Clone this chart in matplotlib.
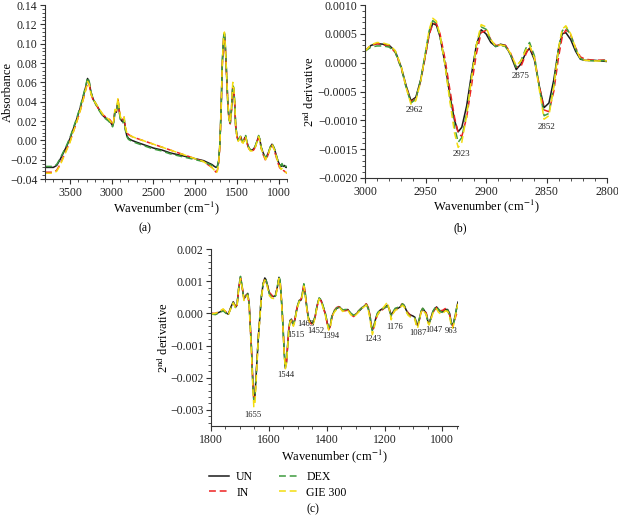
import matplotlib
matplotlib.use("Agg")
import matplotlib.pyplot as plt
from matplotlib.ticker import MultipleLocator, FuncFormatter

plt.rcParams['font.family'] = ['Liberation Serif', 'DejaVu Serif']
plt.rcParams['mathtext.fontset'] = 'stix'

names = ['UN', 'IN', 'DEX', 'GIE 300']
colors = ['#1a1a1a', '#ee2222', '#3f9b3f', '#f2dc10']
styles = ['-', '--', '--', '--']

# ---- panel (a): absorbance spectra
wn_a = [3800, 3750, 3700, 3660, 3620, 3580, 3540, 3500, 3460, 3420,
        3380, 3340, 3310, 3290, 3270, 3250, 3220, 3190, 3160, 3130,
        3100, 3070, 3040, 3010, 2990, 2975, 2962, 2945, 2925, 2910,
        2895, 2880, 2866, 2852, 2838, 2820, 2800, 2760, 2700, 2600,
        2500, 2400, 2300, 2200, 2100, 2000, 1900, 1850, 1800, 1770,
        1750, 1735, 1720, 1705, 1690, 1675, 1660, 1650, 1640, 1625,
        1610, 1595, 1580, 1565, 1550, 1540, 1528, 1515, 1500, 1485,
        1470, 1455, 1440, 1425, 1410, 1395, 1380, 1360, 1340, 1320,
        1300, 1280, 1260, 1240, 1225, 1210, 1190, 1170, 1155, 1140,
        1120, 1100, 1080, 1065, 1050, 1030, 1010, 990, 970, 960,
        945, 930, 915, 900]
un_a = [-0.028, -0.028, -0.028, -0.026, -0.020, -0.013, -0.006, 0.002, 0.012, 0.022,
        0.033, 0.046, 0.056, 0.064, 0.060, 0.050, 0.042, 0.038, 0.033, 0.029,
        0.025, 0.023, 0.021, 0.018, 0.015, 0.020, 0.030, 0.029, 0.041, 0.030,
        0.022, 0.020, 0.019, 0.023, 0.012, 0.005, 0.002, 0.000, -0.002, -0.005,
        -0.008, -0.010, -0.013, -0.015, -0.017, -0.019, -0.021, -0.023, -0.025, -0.027,
        -0.028, -0.027, -0.022, -0.005, 0.030, 0.080, 0.105, 0.110, 0.098, 0.070,
        0.040, 0.022, 0.018, 0.032, 0.055, 0.054, 0.040, 0.015, 0.005, 0.000,
        0.002, 0.004, -0.001, -0.002, 0.002, 0.004, -0.002, -0.007, -0.010, -0.010,
        -0.009, -0.006, -0.001, 0.004, 0.001, -0.007, -0.012, -0.016, -0.019, -0.016,
        -0.012, -0.007, -0.004, -0.006, -0.009, -0.015, -0.021, -0.025, -0.027, -0.025,
        -0.027, -0.026, -0.028, -0.028]
in_a = [-0.033, -0.033, -0.033, -0.031, -0.025, -0.017, -0.009, -0.001, 0.009, 0.019,
        0.030, 0.043, 0.053, 0.060, 0.058, 0.048, 0.041, 0.037, 0.033, 0.029,
        0.026, 0.024, 0.023, 0.020, 0.017, 0.021, 0.031, 0.030, 0.042, 0.031,
        0.023, 0.022, 0.021, 0.024, 0.014, 0.008, 0.006, 0.004, 0.002, -0.001,
        -0.004, -0.007, -0.010, -0.013, -0.016, -0.019, -0.022, -0.025, -0.028, -0.031,
        -0.033, -0.031, -0.025, -0.007, 0.028, 0.078, 0.103, 0.108, 0.097, 0.069,
        0.039, 0.021, 0.017, 0.031, 0.055, 0.054, 0.040, 0.014, 0.004, -0.001,
        0.001, 0.003, -0.002, -0.003, 0.001, 0.003, -0.003, -0.008, -0.011, -0.011,
        -0.010, -0.007, -0.002, 0.003, 0.000, -0.008, -0.014, -0.018, -0.021, -0.018,
        -0.013, -0.008, -0.005, -0.007, -0.011, -0.017, -0.023, -0.028, -0.030, -0.029,
        -0.031, -0.032, -0.033, -0.034]
dex_a = [-0.027, -0.027, -0.027, -0.025, -0.019, -0.012, -0.005, 0.003, 0.013, 0.023,
         0.034, 0.047, 0.057, 0.065, 0.061, 0.050, 0.042, 0.037, 0.032, 0.028,
         0.024, 0.022, 0.020, 0.017, 0.014, 0.019, 0.030, 0.029, 0.041, 0.029,
         0.021, 0.019, 0.018, 0.022, 0.011, 0.004, 0.001, -0.001, -0.003, -0.006,
         -0.009, -0.011, -0.014, -0.016, -0.018, -0.020, -0.022, -0.024, -0.026, -0.027,
         -0.028, -0.027, -0.021, -0.004, 0.032, 0.082, 0.107, 0.113, 0.100, 0.071,
         0.041, 0.022, 0.018, 0.033, 0.057, 0.055, 0.041, 0.015, 0.005, 0.000,
         0.002, 0.005, -0.001, -0.002, 0.002, 0.005, -0.002, -0.007, -0.010, -0.010,
         -0.009, -0.006, -0.001, 0.005, 0.001, -0.007, -0.012, -0.016, -0.018, -0.016,
         -0.012, -0.007, -0.003, -0.006, -0.009, -0.015, -0.021, -0.025, -0.026, -0.024,
         -0.027, -0.025, -0.027, -0.027]
gie_a = [-0.034, -0.034, -0.034, -0.032, -0.026, -0.018, -0.010, -0.002, 0.009, 0.019,
         0.030, 0.043, 0.053, 0.061, 0.058, 0.048, 0.042, 0.038, 0.034, 0.030,
         0.026, 0.024, 0.022, 0.019, 0.016, 0.021, 0.032, 0.031, 0.044, 0.032,
         0.024, 0.022, 0.021, 0.024, 0.014, 0.008, 0.006, 0.004, 0.002, -0.001,
         -0.004, -0.007, -0.010, -0.013, -0.016, -0.019, -0.022, -0.025, -0.028, -0.031,
         -0.034, -0.032, -0.025, -0.006, 0.030, 0.081, 0.107, 0.112, 0.099, 0.071,
         0.041, 0.022, 0.018, 0.034, 0.060, 0.058, 0.042, 0.015, 0.004, -0.001,
         0.001, 0.004, -0.002, -0.003, 0.001, 0.004, -0.003, -0.008, -0.011, -0.011,
         -0.010, -0.007, -0.002, 0.004, 0.000, -0.008, -0.013, -0.017, -0.020, -0.017,
         -0.013, -0.008, -0.004, -0.007, -0.010, -0.016, -0.022, -0.027, -0.030, -0.029,
         -0.031, -0.032, -0.033, -0.034]

# ---- panel (b): 2nd derivative, CH stretching region
wn_b = [3000, 2995, 2990, 2985, 2980, 2975, 2970, 2966, 2962, 2958,
        2954, 2950, 2947, 2944, 2941, 2938, 2934, 2930, 2926, 2923,
        2920, 2916, 2912, 2908, 2904, 2900, 2896, 2892, 2888, 2884,
        2880, 2875, 2871, 2867, 2864, 2860, 2856, 2852, 2848, 2844,
        2840, 2837, 2834, 2830, 2826, 2822, 2818, 2810, 2800]
un_b = [0.00020, 0.00030, 0.00033, 0.00032, 0.00030, 0.00020, -0.00008, -0.00040, -0.00066, -0.00060,
        -0.00030, 0.00015, 0.00050, 0.00068, 0.00065, 0.00045, 0.00000, -0.00055, -0.00100, -0.00120,
        -0.00112, -0.00075, -0.00020, 0.00030, 0.00057, 0.00050, 0.00035, 0.00028, 0.00032, 0.00030,
        0.00015, -0.00012, -0.00002, 0.00018, 0.00025, 0.00005, -0.00040, -0.00078, -0.00070, -0.00030,
        0.00025, 0.00050, 0.00052, 0.00040, 0.00020, 0.00006, 0.00004, 0.00004, 0.00002]
in_b = [0.00020, 0.00030, 0.00033, 0.00031, 0.00028, 0.00018, -0.00010, -0.00042, -0.00068, -0.00062,
        -0.00032, 0.00012, 0.00048, 0.00068, 0.00068, 0.00050, 0.00008, -0.00045, -0.00095, -0.00122,
        -0.00128, -0.00095, -0.00040, 0.00015, 0.00052, 0.00056, 0.00040, 0.00030, 0.00030, 0.00030,
        0.00018, -0.00008, -0.00006, 0.00015, 0.00028, 0.00010, -0.00040, -0.00082, -0.00085, -0.00050,
        0.00010, 0.00045, 0.00057, 0.00048, 0.00026, 0.00010, 0.00006, 0.00004, 0.00005]
dex_b = [0.00020, 0.00027, 0.00029, 0.00029, 0.00027, 0.00018, -0.00010, -0.00043, -0.00070, -0.00063,
         -0.00030, 0.00018, 0.00055, 0.00073, 0.00068, 0.00045, -0.00002, -0.00060, -0.00112, -0.00138,
         -0.00130, -0.00088, -0.00025, 0.00030, 0.00062, 0.00058, 0.00038, 0.00028, 0.00030, 0.00028,
         0.00015, -0.00008, 0.00004, 0.00025, 0.00035, 0.00012, -0.00042, -0.00092, -0.00088, -0.00040,
         0.00025, 0.00055, 0.00062, 0.00048, 0.00024, 0.00007, 0.00004, 0.00003, 0.00004]
gie_b = [0.00020, 0.00031, 0.00035, 0.00034, 0.00031, 0.00021, -0.00007, -0.00043, -0.00072, -0.00066,
         -0.00033, 0.00017, 0.00057, 0.00077, 0.00072, 0.00048, -0.00002, -0.00065, -0.00122, -0.00147,
         -0.00138, -0.00092, -0.00028, 0.00030, 0.00066, 0.00062, 0.00040, 0.00029, 0.00031, 0.00029,
         0.00017, -0.00005, 0.00003, 0.00022, 0.00030, 0.00008, -0.00046, -0.00098, -0.00092, -0.00042,
         0.00026, 0.00058, 0.00064, 0.00050, 0.00025, 0.00007, 0.00004, 0.00003, 0.00003]
peaks_b = [2962, 2923, 2875, 2852]
peaks_b_pos = [(2959, -0.00082), (2920, -0.00158), (2871, -0.00023), (2850, -0.00111)]

# ---- panel (c): 2nd derivative, fingerprint region
wn_c = [1800, 1785, 1770, 1758, 1748, 1740, 1731, 1723, 1715, 1710,
        1704, 1698, 1692, 1686, 1679, 1673, 1668, 1664, 1660, 1656,
        1652, 1648, 1644, 1640, 1636, 1631, 1626, 1620, 1614, 1610,
        1604, 1598, 1591, 1584, 1577, 1570, 1565, 1561, 1557, 1554,
        1550, 1547, 1543, 1539, 1535, 1531, 1527, 1522, 1518, 1515,
        1510, 1505, 1500, 1495, 1488, 1483, 1479, 1474, 1469, 1463,
        1457, 1452, 1446, 1440, 1433, 1426, 1419, 1412, 1405, 1398,
        1393, 1388, 1382, 1375, 1366, 1355, 1345, 1337, 1327, 1317,
        1307, 1296, 1285, 1274, 1263, 1256, 1250, 1246, 1242, 1237,
        1231, 1224, 1215, 1206, 1198, 1190, 1183, 1177, 1170, 1163,
        1155, 1146, 1138, 1132, 1125, 1118, 1110, 1102, 1095, 1090,
        1086, 1080, 1074, 1068, 1062, 1056, 1050, 1046, 1040, 1033,
        1026, 1020, 1014, 1006, 998, 990, 982, 975, 969, 964,
        959, 954, 950, 946]
un_c = [0.00000, -0.00002, 0.00004, 0.00010, 0.00002, -0.00003, 0.00020, 0.00036, 0.00020, 0.00025,
        0.00080, 0.00113, 0.00080, 0.00045, 0.00055, 0.00062, 0.00030, -0.00040, -0.00110, -0.00200,
        -0.00270, -0.00255, -0.00195, -0.00130, -0.00070, -0.00010, 0.00050, 0.00090, 0.00110, 0.00105,
        0.00085, 0.00062, 0.00055, 0.00052, 0.00055, 0.00085, 0.00112, 0.00100, 0.00050, 0.00010,
        -0.00060, -0.00120, -0.00170, -0.00150, -0.00100, -0.00050, -0.00025, -0.00018, -0.00030, -0.00035,
        -0.00020, 0.00005, 0.00025, 0.00038, 0.00042, 0.00065, 0.00088, 0.00060, 0.00020, -0.00015,
        -0.00025, -0.00030, -0.00028, -0.00010, 0.00025, 0.00047, 0.00040, 0.00020, 0.00000, -0.00030,
        -0.00047, -0.00040, -0.00010, 0.00005, 0.00015, 0.00020, 0.00008, 0.00010, 0.00012, 0.00000,
        -0.00008, 0.00000, 0.00010, 0.00020, 0.00028, 0.00015, -0.00010, -0.00035, -0.00052, -0.00040,
        -0.00018, 0.00000, 0.00010, 0.00015, 0.00020, 0.00025, 0.00012, -0.00005, 0.00005, 0.00013,
        0.00015, 0.00020, 0.00028, 0.00025, 0.00010, 0.00000, -0.00005, -0.00008, -0.00012, -0.00030,
        -0.00037, -0.00020, 0.00005, 0.00015, 0.00008, 0.00000, -0.00025, -0.00030, -0.00015, 0.00005,
        0.00015, 0.00020, 0.00012, 0.00005, 0.00005, 0.00012, 0.00012, 0.00000, -0.00030, -0.00037,
        -0.00020, 0.00000, 0.00020, 0.00035]
in_c = [0.00000, 0.00000, 0.00006, 0.00012, 0.00004, -0.00002, 0.00018, 0.00034, 0.00022, 0.00027,
        0.00078, 0.00110, 0.00082, 0.00047, 0.00057, 0.00060, 0.00028, -0.00042, -0.00112, -0.00198,
        -0.00265, -0.00258, -0.00198, -0.00128, -0.00068, -0.00008, 0.00048, 0.00092, 0.00108, 0.00100,
        0.00082, 0.00065, 0.00058, 0.00050, 0.00058, 0.00082, 0.00108, 0.00098, 0.00052, 0.00008,
        -0.00058, -0.00118, -0.00165, -0.00152, -0.00102, -0.00048, -0.00022, -0.00020, -0.00032, -0.00036,
        -0.00018, 0.00008, 0.00028, 0.00040, 0.00045, 0.00068, 0.00090, 0.00062, 0.00018, -0.00018,
        -0.00030, -0.00033, -0.00030, -0.00012, 0.00022, 0.00045, 0.00038, 0.00018, -0.00002, -0.00032,
        -0.00050, -0.00042, -0.00012, 0.00008, 0.00018, 0.00022, 0.00010, 0.00008, 0.00010, -0.00002,
        -0.00010, 0.00002, 0.00012, 0.00022, 0.00030, 0.00018, -0.00008, -0.00038, -0.00055, -0.00045,
        -0.00020, -0.00004, 0.00008, 0.00012, 0.00018, 0.00022, 0.00010, -0.00008, 0.00002, 0.00010,
        0.00018, 0.00025, 0.00030, 0.00022, 0.00008, 0.00002, -0.00008, -0.00012, -0.00015, -0.00035,
        -0.00040, -0.00022, 0.00002, 0.00015, 0.00010, 0.00002, -0.00022, -0.00028, -0.00018, 0.00002,
        0.00012, 0.00018, 0.00010, 0.00008, 0.00010, 0.00015, 0.00008, -0.00005, -0.00032, -0.00040,
        -0.00025, -0.00010, 0.00000, 0.00005]
dex_c = [-0.00002, -0.00004, 0.00002, 0.00008, 0.00000, -0.00004, 0.00018, 0.00034, 0.00018, 0.00024,
         0.00082, 0.00115, 0.00082, 0.00044, 0.00054, 0.00060, 0.00028, -0.00042, -0.00114, -0.00205,
         -0.00272, -0.00258, -0.00198, -0.00132, -0.00070, -0.00008, 0.00052, 0.00092, 0.00108, 0.00104,
         0.00084, 0.00060, 0.00053, 0.00050, 0.00054, 0.00086, 0.00114, 0.00102, 0.00050, 0.00008,
         -0.00062, -0.00118, -0.00162, -0.00148, -0.00098, -0.00048, -0.00024, -0.00016, -0.00028, -0.00033,
         -0.00018, 0.00006, 0.00027, 0.00040, 0.00044, 0.00068, 0.00092, 0.00062, 0.00020, -0.00014,
         -0.00024, -0.00028, -0.00026, -0.00008, 0.00026, 0.00048, 0.00042, 0.00022, 0.00002, -0.00028,
         -0.00045, -0.00038, -0.00008, 0.00006, 0.00016, 0.00022, 0.00010, 0.00012, 0.00012, 0.00001,
         -0.00006, 0.00002, 0.00012, 0.00021, 0.00028, 0.00014, -0.00012, -0.00038, -0.00055, -0.00042,
         -0.00016, 0.00002, 0.00012, 0.00014, 0.00018, 0.00022, 0.00008, -0.00008, 0.00006, 0.00016,
         0.00018, 0.00022, 0.00030, 0.00024, 0.00008, -0.00004, -0.00010, -0.00010, -0.00014, -0.00032,
         -0.00036, -0.00018, 0.00006, 0.00016, 0.00010, -0.00002, -0.00026, -0.00032, -0.00016, 0.00006,
         0.00016, 0.00022, 0.00014, 0.00006, 0.00002, 0.00008, 0.00010, -0.00004, -0.00034, -0.00040,
         -0.00022, 0.00002, 0.00018, 0.00030]
gie_c = [-0.00002, 0.00000, 0.00006, 0.00014, 0.00004, -0.00004, 0.00016, 0.00032, 0.00016, 0.00022,
         0.00078, 0.00108, 0.00078, 0.00040, 0.00050, 0.00056, 0.00022, -0.00050, -0.00125, -0.00218,
         -0.00290, -0.00280, -0.00210, -0.00138, -0.00074, -0.00012, 0.00046, 0.00086, 0.00104, 0.00098,
         0.00078, 0.00055, 0.00048, 0.00046, 0.00050, 0.00080, 0.00108, 0.00096, 0.00045, 0.00004,
         -0.00066, -0.00126, -0.00172, -0.00156, -0.00104, -0.00052, -0.00028, -0.00022, -0.00034, -0.00040,
         -0.00024, 0.00002, 0.00022, 0.00036, 0.00040, 0.00062, 0.00085, 0.00056, 0.00016, -0.00020,
         -0.00030, -0.00036, -0.00032, -0.00014, 0.00022, 0.00045, 0.00036, 0.00016, -0.00004, -0.00034,
         -0.00052, -0.00044, -0.00014, 0.00002, 0.00012, 0.00018, 0.00006, 0.00008, 0.00010, -0.00004,
         -0.00012, -0.00002, 0.00008, 0.00018, 0.00026, 0.00010, -0.00018, -0.00048, -0.00066, -0.00050,
         -0.00024, -0.00004, 0.00008, 0.00016, 0.00025, 0.00035, 0.00010, -0.00020, 0.00000, 0.00010,
         0.00012, 0.00018, 0.00025, 0.00020, 0.00004, -0.00006, -0.00012, -0.00014, -0.00018, -0.00040,
         -0.00046, -0.00026, 0.00002, 0.00012, 0.00004, -0.00004, -0.00030, -0.00036, -0.00020, 0.00000,
         0.00008, 0.00014, 0.00004, -0.00002, 0.00000, 0.00008, 0.00006, -0.00008, -0.00040, -0.00046,
         -0.00028, -0.00004, 0.00016, 0.00030]
peaks_c = [1655, 1544, 1515, 1463, 1452, 1394, 1243, 1176, 1087, 1047, 963]
peaks_c_pos = [(1654, -0.00315), (1542, -0.00193), (1507, -0.00066), (1472, -0.00034),
               (1436, -0.00054), (1384, -0.00071), (1242, -0.00081), (1166, -0.00042),
               (1085, -0.00060), (1029, -0.00052), (970, -0.00055)]

W, H = 618, 515
fig = plt.figure(figsize=(W / 100, H / 100), dpi=100)


def px_axes(l, t, r, b):
    return fig.add_axes([l / W, 1 - b / H, (r - l) / W, (b - t) / H])


def minus(fmt):
    return FuncFormatter(lambda v, p: (fmt % v).replace('-', '\u2212'))


def style_axes(ax):
    for s in ['top', 'right']:
        ax.spines[s].set_visible(False)
    for s in ['left', 'bottom']:
        ax.spines[s].set_linewidth(0.8)
        ax.spines[s].set_color('#333333')
    ax.tick_params(which='major', direction='out', length=3.5, width=0.8,
                   labelsize=8.5, colors='#333333', labelcolor='#222222', pad=2)
    ax.tick_params(which='minor', direction='out', length=2, width=0.6, colors='#333333')


def draw(ax, x, series):
    lines = []
    for y, c, ls, n in zip(series, colors, styles, names):
        if ls == '-':
            ln, = ax.plot(x, y, color=c, lw=1.1, label=n)
        else:
            ln, = ax.plot(x, y, color=c, lw=1.1, ls=(0, (4.5, 2.5)), label=n)
        lines.append(ln)
    return lines


xlab = 'Wavenumber (cm$^{-1}$)'
ylab2 = '2$^{\\rm nd}$ derivative'

# (a)
ax1 = px_axes(45, 5, 287, 179)
lines = draw(ax1, wn_a, [un_a, in_a, dex_a, gie_a])
ax1.set_xlim(3800, 900)
ax1.set_ylim(-0.04, 0.14)
ax1.xaxis.set_major_locator(MultipleLocator(500))
ax1.xaxis.set_minor_locator(MultipleLocator(100))
ax1.yaxis.set_major_locator(MultipleLocator(0.02))
ax1.yaxis.set_minor_locator(MultipleLocator(0.004))
ax1.yaxis.set_major_formatter(minus('%.2f'))
style_axes(ax1)
ax1.set_xlabel(xlab, fontsize=9)
ax1.set_ylabel('Absorbance', fontsize=9)
ax1.xaxis.set_label_coords(0.5, -0.115)
ax1.yaxis.set_label_coords(-0.13, 0.5)

# (b)
ax2 = px_axes(365, 5, 607, 178)
draw(ax2, wn_b, [un_b, in_b, dex_b, gie_b])
ax2.set_xlim(3000, 2800)
ax2.set_ylim(-0.002, 0.001)
ax2.xaxis.set_major_locator(MultipleLocator(50))
ax2.xaxis.set_minor_locator(MultipleLocator(10))
ax2.yaxis.set_major_locator(MultipleLocator(0.0005))
ax2.yaxis.set_minor_locator(MultipleLocator(0.0001))
ax2.yaxis.set_major_formatter(minus('%.4f'))
style_axes(ax2)
ax2.set_xlabel(xlab, fontsize=9)
ax2.set_ylabel(ylab2, fontsize=9)
ax2.xaxis.set_label_coords(0.5, -0.115)
ax2.yaxis.set_label_coords(-0.2, 0.5)
for p, (x, y) in zip(peaks_b, peaks_b_pos):
    ax2.text(x, y, str(p), fontsize=6.5, ha='center', va='center', color='#222222')

# (c)
ax3 = px_axes(211, 249, 458, 426)
draw(ax3, wn_c, [un_c, in_c, dex_c, gie_c])
ax3.set_xlim(1800, 946)
ax3.set_ylim(-0.0035, 0.002)
ax3.xaxis.set_major_locator(MultipleLocator(200))
ax3.xaxis.set_minor_locator(MultipleLocator(50))
ax3.yaxis.set_major_locator(MultipleLocator(0.001))
ax3.yaxis.set_minor_locator(MultipleLocator(0.0002))
ax3.yaxis.set_major_formatter(minus('%.3f'))
style_axes(ax3)
ax3.set_xlabel(xlab, fontsize=9)
ax3.set_ylabel(ylab2, fontsize=9)
ax3.xaxis.set_label_coords(0.5, -0.12)
ax3.yaxis.set_label_coords(-0.162, 0.5)
for p, (x, y) in zip(peaks_c, peaks_c_pos):
    ax3.text(x, y, str(p), fontsize=6.2, ha='center', va='center', color='#222222')

fig.text(145 / W, 1 - 228 / H, '(a)', fontsize=8.5, ha='center', va='center')
fig.text(460 / W, 1 - 228 / H, '(b)', fontsize=8.5, ha='center', va='center')
fig.text(313 / W, 1 - 509 / H, '(c)', fontsize=8.5, ha='center', va='center')

fig.legend(lines, names, ncol=2, loc='upper left', bbox_to_anchor=(209 / W, 1 - 471 / H),
           frameon=False, fontsize=8.5, handlelength=1.7, handletextpad=0.6,
           columnspacing=2.2, labelspacing=0.3, borderpad=0, borderaxespad=0)

fig.savefig('out.png', dpi=100)
